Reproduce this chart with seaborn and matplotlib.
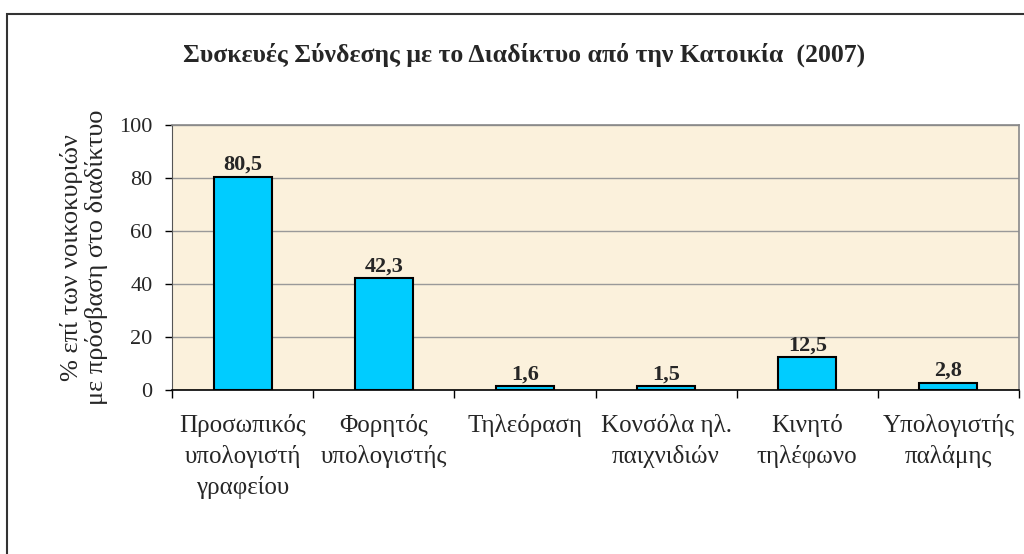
import matplotlib
matplotlib.use("Agg")
import matplotlib.pyplot as plt
import seaborn as sns
import pandas as pd
from matplotlib.patches import Rectangle

categories = ["Προσωπικός\nυπολογιστή\nγραφείου", "Φορητός\nυπολογιστής", "Τηλεόραση",
              "Κονσόλα ηλ.\nπαιχνιδιών", "Κινητό\nτηλέφωνο", "Υπολογιστής\nπαλάμης"]
values = [80.5, 42.3, 1.6, 1.5, 12.5, 2.8]
value_labels = ["80,5", "42,3", "1,6", "1,5", "12,5", "2,8"]
yticks = [0, 20, 40, 60, 80, 100]
title = "Συσκευές Σύνδεσης με το Διαδίκτυο από την Κατοικία  (2007)"
ylabel = "% επί των νοικοκυριών\nμε πρόσβαση στο διαδίκτυο"

sns.set_style("white")
plt.rcParams['font.family'] = ['Liberation Serif', 'DejaVu Serif']

df = pd.DataFrame({"cat": categories, "val": values})

fig = plt.figure(figsize=(10.24, 5.54), dpi=100)
ax = fig.add_axes([172/1024, 1-390/554, (1019-172)/1024, (390-125)/554])
ax.set_facecolor("#FBF1DC")

sns.barplot(data=df, x="cat", y="val", ax=ax, color="#00CCFF", width=0.41,
            edgecolor="black", linewidth=1.5, saturation=1)

ax.set_ylim(0, 100)
ax.set_xlim(-0.5, 5.5)
ax.set_yticks(yticks)
ax.set_yticklabels([str(t) for t in yticks], fontsize=16)
ax.yaxis.grid(True, color="#999999", linewidth=1)
ax.set_axisbelow(True)
ax.set_xticks([i - 0.5 for i in range(7)], minor=False)
ax.set_xticklabels([])
ax.set_xticks(range(6), minor=True)
ax.set_xticklabels(categories, minor=True, fontsize=18, linespacing=1.45)
ax.tick_params(axis="x", which="minor", length=0, pad=17)
ax.tick_params(axis="x", which="major", length=6, width=1, color="black", direction="out")
ax.tick_params(axis="y", length=5, width=1, color="black", direction="out", pad=9)
ax.tick_params(bottom=True, left=True)
ax.set_xlabel("")
ax.set_ylabel(ylabel, fontsize=19, labelpad=8, linespacing=1.1)

for s in ["top", "right"]:
    ax.spines[s].set_color("#888888")
    ax.spines[s].set_linewidth(1.2)
ax.spines["left"].set_color("#555555")
ax.spines["bottom"].set_color("black")
ax.spines["bottom"].set_linewidth(1.2)

for i, (v, lab) in enumerate(zip(values, value_labels)):
    ax.text(i, v + 0.6, lab, ha="center", va="bottom", fontsize=16, fontweight="bold")

fig.text(524/1024, 1-55/554, title, ha="center", va="center", fontsize=18.5, fontweight="bold")

fig.patches.append(Rectangle((7/1024, -0.1), 1.2, 1-14/554+0.1, transform=fig.transFigure,
                             fill=False, edgecolor="#333333", linewidth=1.5))

fig.savefig("out.png", dpi=100)
